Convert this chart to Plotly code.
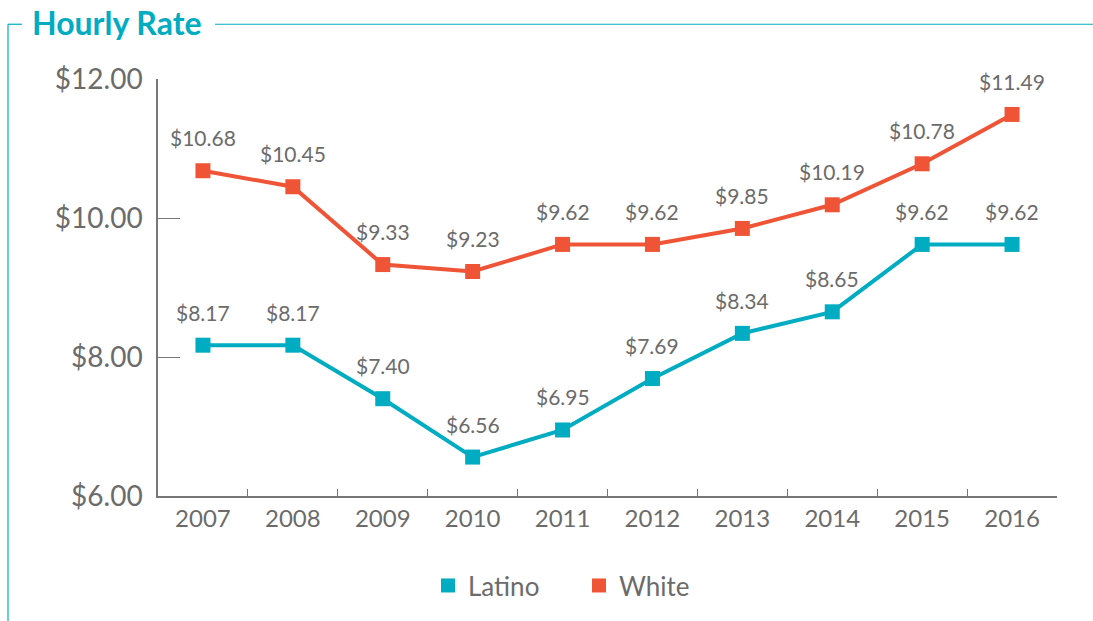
import plotly.graph_objects as go

years = ["2007", "2008", "2009", "2010", "2011", "2012", "2013", "2014", "2015", "2016"]
latino = [8.17, 8.17, 7.40, 6.56, 6.95, 7.69, 8.34, 8.65, 9.62, 9.62]
white = [10.68, 10.45, 9.33, 9.23, 9.62, 9.62, 9.85, 10.19, 10.78, 11.49]

TEAL = "#00acc1"
ORANGE = "#f05436"
GREY = "#6b6b6b"
FONT = "Lato"

# plot area in pixels (used only to place the frame around the chart)
L, R, T, B = 158, 1057, 79, 498


def px_x(p):
    return (p - L) / (R - L)


def px_y(p):
    return (B - p) / (B - T)


fig = go.Figure()

for name, vals, col in [("Latino", latino, TEAL), ("White", white, ORANGE)]:
    fig.add_trace(go.Scatter(
        x=years, y=vals, mode="lines+markers", name=name,
        line=dict(color=col, width=4),
        marker=dict(symbol="square", size=15, color=col),
        showlegend=False, cliponaxis=False,
    ))
    # value labels above each point (category axis -> use serial index)
    for i, v in enumerate(vals):
        fig.add_annotation(
            x=i, y=v, text=f"${v:.2f}", showarrow=False, yshift=33,
            font=dict(family=FONT, size=21, color=GREY),
        )

# legend entries: square swatches only
for name, col in [("Latino", TEAL), ("White", ORANGE)]:
    fig.add_trace(go.Scatter(
        x=[None], y=[None], mode="markers", name=name,
        marker=dict(symbol="square", size=14, color=col),
    ))

line_style = dict(color=TEAL, width=1.2)
fig.add_shape(type="line", xref="paper", yref="paper",
              x0=px_x(8), x1=px_x(8), y0=px_y(24), y1=px_y(625), line=line_style)
fig.add_shape(type="line", xref="paper", yref="paper",
              x0=px_x(8), x1=px_x(22), y0=px_y(24), y1=px_y(24), line=line_style)
fig.add_shape(type="line", xref="paper", yref="paper",
              x0=px_x(215), x1=px_x(1095), y0=px_y(24), y1=px_y(24), line=line_style)

fig.add_annotation(
    text="<b>Hourly Rate</b>", xref="paper", yref="paper",
    x=px_x(30), y=px_y(22), xanchor="left", yanchor="middle",
    showarrow=False, font=dict(family=FONT, size=32, color=TEAL),
)

fig.update_layout(
    width=1093, height=621,
    margin=dict(l=L, r=1093 - R, t=T, b=621 - B),
    paper_bgcolor="white", plot_bgcolor="white",
    font=dict(family=FONT, color=GREY),
    legend=dict(orientation="h", x=px_x(579), xanchor="center",
                y=px_y(588), yanchor="middle",
                font=dict(family=FONT, size=26, color=GREY),
                itemwidth=30, entrywidth=106, tracegroupgap=0),
)

fig.update_xaxes(
    type="category", range=[-0.5, 9.5],
    showline=True, linecolor="#777", linewidth=1.5,
    ticks="inside", tickson="boundaries", ticklen=7, tickcolor="#777",
    showgrid=False, tickfont=dict(family=FONT, size=24, color=GREY),
)
fig.update_yaxes(
    range=[6, 12], dtick=2, tickprefix="$", tickformat=".2f",
    showline=True, linecolor="#777", linewidth=1.5,
    ticks="inside", ticklen=22, tickcolor="#777",
    showgrid=False, zeroline=False,
    tickfont=dict(family=FONT, size=28, color=GREY), ticklabelstandoff=8,
)

fig.write_html("out.html", config={"displayModeBar": False},
               post_script="document.body.style.margin='0';")
